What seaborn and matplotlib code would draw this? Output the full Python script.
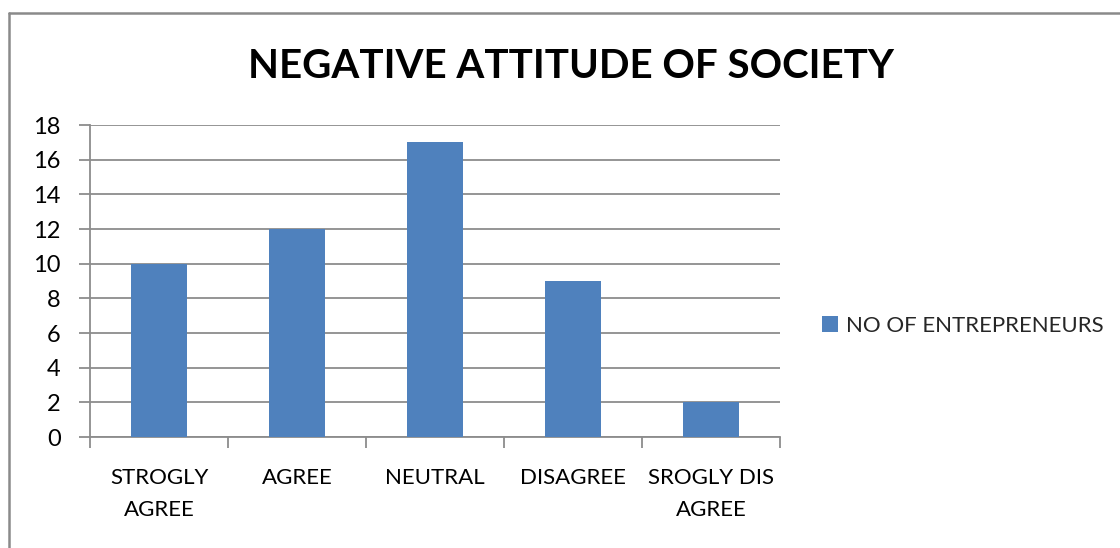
import matplotlib
matplotlib.use("Agg")
import matplotlib.pyplot as plt
from matplotlib.lines import Line2D
from matplotlib.patches import Patch
import numpy as np
import pandas as pd
import seaborn as sns

categories = ["STROGLY\nAGREE", "AGREE", "NEUTRAL", "DISAGREE", "SROGLY DIS\nAGREE"]
entrepreneurs = [10, 12, 17, 9, 2]
series_name = "NO OF ENTREPRENEURS"
title = "NEGATIVE ATTITUDE OF SOCIETY"
y_ticks = [0, 2, 4, 6, 8, 10, 12, 14, 16, 18]

sns.set_theme(style="white")
plt.rcParams["font.family"] = ["Lato", "DejaVu Sans"]

bar_color = "#4F81BD"
grid_color = "#8C8C8C"

df = pd.DataFrame({"category": categories, "value": entrepreneurs})

fig = plt.figure(figsize=(11.2, 5.48), dpi=100)
ax = fig.add_axes([90 / 1120, 1 - 437 / 548, 690 / 1120, 312 / 548])

sns.barplot(data=df, x="category", y="value", color=bar_color,
            width=0.4, saturation=1, linewidth=0, ax=ax, zorder=3)

ax.set_ylim(0, 18)
ax.set_xlim(-0.5, len(categories) - 0.5)
ax.set_yticks(y_ticks)
ax.set_yticklabels([str(v) for v in y_ticks])
ax.set_xlabel("")
ax.set_ylabel("")

# horizontal gridlines
for v in y_ticks:
    ax.axhline(v, color=grid_color, lw=1.3, zorder=1)

for side in ["top", "right"]:
    ax.spines[side].set_visible(False)
ax.spines["left"].set_color(grid_color)
ax.spines["left"].set_linewidth(1.3)
ax.spines["bottom"].set_color(grid_color)
ax.spines["bottom"].set_linewidth(1.3)

ax.tick_params(axis="y", which="major", direction="out", length=8, width=1.3,
               color=grid_color, left=True, pad=13, labelsize=17, labelcolor="black")
ax.tick_params(axis="x", which="major", length=0, pad=22, labelsize=16, labelcolor="black")
ax.set_xticks(np.arange(-0.5, len(categories), 1.0), minor=True)
ax.tick_params(axis="x", which="minor", direction="out", length=8, width=1.3,
               color=grid_color, bottom=True)
for lbl in ax.get_xticklabels():
    lbl.set_linespacing(1.8)

fig.text(571 / 1120, 1 - 66 / 548, title, ha="center", va="center",
         fontsize=29, fontweight="bold", color="black")

handle = Patch(facecolor=bar_color, edgecolor="none")
fig.legend([handle], [series_name], loc="center left",
           bbox_to_anchor=(822 / 1120, 1 - 326 / 548), frameon=False,
           fontsize=16, handlelength=0.7, handleheight=0.7, handletextpad=0.4,
           borderpad=0, borderaxespad=0)

# chart border (left and top edges)
fig.add_artist(Line2D([9 / 1120, 9 / 1120], [0, 1 - 13 / 548],
                      transform=fig.transFigure, color="#8A8A8A", lw=1.8))
fig.add_artist(Line2D([9 / 1120, 1], [1 - 13 / 548, 1 - 13 / 548],
                      transform=fig.transFigure, color="#8A8A8A", lw=1.8))

fig.savefig("out.png", dpi=100, facecolor="white")
